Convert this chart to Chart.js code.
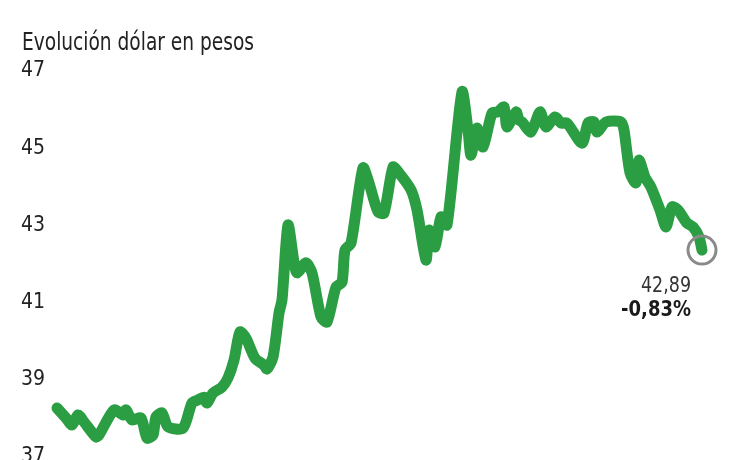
<!DOCTYPE html>
<html>
<head>
<meta charset="utf-8">
<script src="https://cdn.jsdelivr.net/npm/chart.js@4.4.1/dist/chart.umd.min.js"></script>
<style>
  html, body { margin: 0; padding: 0; background: #fff; overflow: hidden; }
  canvas { display: block; }
</style>
</head>
<body>
<canvas id="chart" width="730" height="480"></canvas>
<script>
// Datos
const titulo = 'Evolución dólar en pesos';
const dias = [0, 3, 5, 7, 9, 13, 14, 19, 22, 23, 25, 28, 30, 32, 33, 35, 37, 42, 45, 47,
  49, 50, 52, 55, 57, 59, 61, 63, 66, 69, 70, 72, 74, 75, 77, 79, 80, 83, 85, 88,
  90, 93, 95, 96, 98, 102, 104, 107, 109, 112, 114, 118, 120, 123, 124, 126, 128, 130, 135, 137,
  138, 140, 142, 145, 147, 149, 150, 153, 154, 155, 158, 161, 163, 166, 168, 170, 175, 177, 179, 180,
  183, 188, 189, 191, 193, 194, 196, 198, 201, 203, 205, 207, 210, 212, 214, 215];
const dolar = [38.27, 38.01, 37.83, 38.09, 37.91, 37.52, 37.57, 38.22, 38.09, 38.22, 37.96, 38.01, 37.49, 37.57, 38.04, 38.14, 37.78, 37.75, 38.40, 38.48,
  38.55, 38.40, 38.66, 38.81, 39.05, 39.51, 40.24, 40.08, 39.56, 39.38, 39.28, 39.59, 40.73, 41.07, 43.01, 42.05, 41.77, 42.03, 41.77, 40.63,
  40.50, 41.40, 41.53, 42.36, 42.54, 44.49, 44.10, 43.35, 43.32, 44.51, 44.36, 43.92, 43.40, 42.10, 42.88, 42.44, 43.22, 43.01, 46.46, 45.47,
  44.82, 45.52, 45.03, 45.91, 45.94, 46.07, 45.55, 45.94, 45.73, 45.68, 45.42, 45.94, 45.55, 45.81, 45.65, 45.65, 45.13, 45.65, 45.68, 45.42,
  45.68, 45.68, 45.47, 44.36, 44.10, 44.69, 44.25, 43.99, 43.40, 42.96, 43.48, 43.40, 43.06, 42.96, 42.70, 42.36];
const ticksY = [37, 39, 41, 43, 45, 47];
const ultimoValor = '42,89';
const variacion = '-0,83%';

const fuente = "'DejaVu Sans Condensed', 'Liberation Sans Narrow', Roboto, sans-serif";
const verde = '#2b9e43';

// Radio del punto: solo el último lleva el círculo gris
const radios = dolar.map((v, i) => i === dolar.length - 1 ? 14 : 0);

// texto ajustado a un ancho dado (la fuente original es más estrecha)
function textoAncho(ctx, txt, x, y, ancho, alinear) {
  const w = ctx.measureText(txt).width;
  const k = Math.min(1, ancho / w);
  ctx.save();
  ctx.translate(alinear === 'right' ? x - w * k : x, y);
  ctx.scale(k, 1);
  ctx.textAlign = 'left';
  ctx.fillText(txt, 0, 0);
  ctx.restore();
}

const textos = {
  id: 'textos',
  afterDatasetsDraw(chart) {
    const ctx = chart.ctx;
    ctx.save();
    ctx.textBaseline = 'alphabetic';
    // título
    ctx.fillStyle = '#222';
    ctx.font = '24px ' + fuente;
    textoAncho(ctx, titulo, 22, 50, 232, 'left');
    // valor final
    const meta = chart.getDatasetMeta(0);
    const p = meta.data[meta.data.length - 1];
    ctx.fillStyle = '#333';
    ctx.font = '22px ' + fuente;
    textoAncho(ctx, ultimoValor, p.x - 11, p.y + 42, 50, 'right');
    ctx.fillStyle = '#1a1a1a';
    ctx.font = 'bold 22px ' + fuente;
    textoAncho(ctx, variacion, p.x - 11, p.y + 66, 70, 'right');
    ctx.restore();
  }
};

new Chart(document.getElementById('chart'), {
  type: 'line',
  data: {
    datasets: [{
      data: dias.map((d, i) => ({ x: d, y: dolar[i] })),
      borderColor: verde,
      borderWidth: 11,
      borderJoinStyle: 'round',
      borderCapStyle: 'round',
      tension: 0.25,
      clip: false,
      pointRadius: radios,
      pointHoverRadius: radios,
      pointBackgroundColor: 'rgba(0,0,0,0)',
      pointBorderColor: '#8a8a8a',
      pointBorderWidth: 3
    }]
  },
  options: {
    responsive: false,
    animation: false,
    layout: { autoPadding: false, padding: { top: 71, bottom: 23, left: 0, right: 0 } },
    plugins: { legend: { display: false }, tooltip: { enabled: false } },
    scales: {
      x: { type: 'linear', display: false, min: -2.33, max: 224.33 },
      y: {
        min: 37, max: 47,
        afterFit: s => { s.width = 50; },
        afterBuildTicks: s => { s.ticks = ticksY.map(v => ({ value: v })); },
        grid: { display: false, drawTicks: false },
        border: { display: false },
        ticks: { padding: 5, color: '#222', font: { family: fuente, size: 21 } }
      }
    }
  },
  plugins: [textos]
});
</script>
</body>
</html>
